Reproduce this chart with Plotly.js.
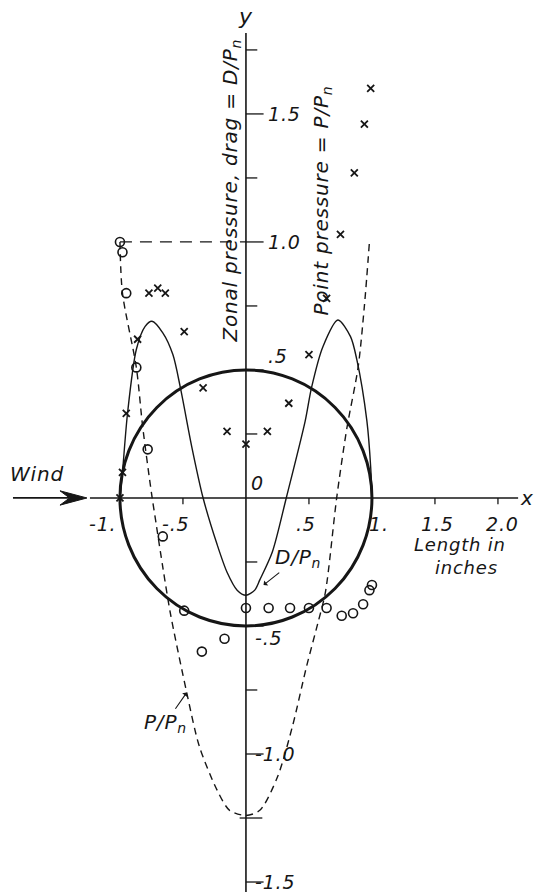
<!DOCTYPE html>
<html>
<head>
<meta charset="utf-8">
<script src="https://cdn.plot.ly/plotly-3.0.1.min.js"></script>
<style>
  html, body { margin: 0; padding: 0; background: #fff; }
  #chart { width: 536px; height: 892px; }
  .annotation-text { letter-spacing: 0.8px; }
</style>
</head>
<body>
<div id="chart"></div>
<script>
// zonal pressure / drag curve D/Pn (solid)
const dragX = [-1.0, -0.98, -0.94, -0.87, -0.80, -0.746, -0.66, -0.58, -0.52, -0.43, -0.34, -0.23, -0.15, -0.07, 0.0, 0.07, 0.11, 0.21, 0.32, 0.47, 0.52, 0.61, 0.73, 0.83, 0.88, 0.96, 0.99, 1.0];
const dragY = [0.0, 0.10, 0.33, 0.58, 0.67, 0.69, 0.645, 0.56, 0.43, 0.20, 0.0, -0.18, -0.29, -0.36, -0.38, -0.36, -0.32, -0.21, 0.0, 0.30, 0.43, 0.59, 0.695, 0.63, 0.54, 0.30, 0.12, 0.0];

// point pressure curve P/Pn (dashed)
const pointX = [-1.0, -0.98, -0.87, -0.82, -0.75, -0.71, -0.66, -0.60, -0.47, -0.37, -0.23, -0.13, 0.0, 0.11, 0.25, 0.37, 0.48, 0.57, 0.63, 0.72, 0.80, 0.89, 0.94, 0.98];
const pointY = [1.0, 0.80, 0.51, 0.28, 0.02, -0.11, -0.27, -0.45, -0.76, -0.97, -1.14, -1.22, -1.24, -1.22, -1.09, -0.89, -0.66, -0.49, -0.37, 0.0, 0.27, 0.51, 0.75, 1.0];

// measured points, open circles
const circX = [-1.0, -0.98, -0.95, -0.87, -0.78, -0.66, -0.49, -0.35, -0.17, 0.0, 0.18, 0.35, 0.50, 0.64, 0.76, 0.85, 0.93, 0.98, 1.0];
const circY = [1.0, 0.96, 0.80, 0.51, 0.19, -0.15, -0.44, -0.60, -0.55, -0.43, -0.43, -0.43, -0.43, -0.43, -0.46, -0.45, -0.415, -0.36, -0.34];

// measured points, crosses
const crossX = [-1.0, -0.98, -0.95, -0.86, -0.77, -0.70, -0.64, -0.49, -0.34, -0.15, 0.0, 0.17, 0.34, 0.50, 0.64, 0.75, 0.86, 0.94, 0.99];
const crossY = [0.0, 0.10, 0.33, 0.62, 0.80, 0.82, 0.80, 0.65, 0.43, 0.26, 0.21, 0.26, 0.37, 0.56, 0.78, 1.03, 1.27, 1.46, 1.60];

// axis ticks
const xTickVals = [-1, -0.5, 0.5, 1, 1.5, 2];
const xTickText = ['-1.', '-.5', '.5', '1.', '1.5', '2.0'];
const yTickVals = [1.5, 1.0, 0.5, -0.5, -1.0, -1.5];
const yTickText = ['1.5', '1.0', '.5', '-.5', '-1.0', '-1.5'];
const yMinorVals = [1.75, 1.25, 0.75, 0.25, -0.25, -0.75, -1.25];

const ink = '#161616';
const font = { family: 'DejaVu Sans, sans-serif', size: 20, color: ink };
const tickFont = { ...font, size: 19 };
const it = (s) => `<i>${s}</i>`;

const traces = [
  { x: dragX, y: dragY, mode: 'lines', line: { color: ink, width: 1.4, shape: 'spline', smoothing: 0.8 }, hoverinfo: 'skip' },
  { x: pointX, y: pointY, mode: 'lines', line: { color: ink, width: 1.4, dash: '7px,5px', shape: 'spline', smoothing: 0.8 }, hoverinfo: 'skip' },
  { x: circX, y: circY, mode: 'markers', marker: { symbol: 'circle-open', size: 9, color: ink, line: { width: 1.6, color: ink } } },
  { x: crossX, y: crossY, mode: 'markers', marker: { symbol: 'x-thin-open', size: 7, color: ink, line: { width: 1.8, color: ink } } }
];

const line = (x0, x1, y0, y1, width, dash) => ({ type: 'line', xref: 'x', yref: 'y', x0, x1, y0, y1, line: { color: ink, width, dash: dash || 'solid' } });

const shapes = [
  // cylinder section
  { type: 'circle', xref: 'x', yref: 'y', x0: -1, x1: 1, y0: -0.5, y1: 0.5, line: { color: ink, width: 3 } },
  // axes
  line(-1.238, 2.16, 0, 0, 1.6),
  line(0, 0, -1.54, 1.816, 1.6),
  // wind arrow
  line(-1.849, -1.40, 0, 0, 1.8),
  { type: 'path', xref: 'x', yref: 'y', path: 'M -1.262 0 L -1.476 0.028 L -1.40 0 L -1.476 -0.028 Z', fillcolor: ink, line: { color: ink, width: 1 } },
  // dashed reference at 1.0
  line(-1, 0, 1, 1, 1.3, '12px,8px')
];
xTickVals.forEach((v) => shapes.push(line(v, v, 0, -0.025, 1.3)));
yTickVals.forEach((v) => shapes.push(line(0, 0.14, v, v, 1.3)));
yMinorVals.forEach((v) => shapes.push(v === -1.25 ? line(-0.05, 0.13, v, v, 1.3) : line(0, 0.09, v, v, 1.3)));

const xShift = { '-1.': -17, '-.5': -7, '.5': -3, '1.': 7, '1.5': 3, '2.0': 5 };
const annotations = [];
xTickVals.forEach((v, i) => annotations.push({
  x: v, y: 0, xref: 'x', yref: 'y', text: it(xTickText[i]), showarrow: false,
  xanchor: 'center', yanchor: 'middle', yshift: -26, xshift: xShift[xTickText[i]], font: tickFont
}));
yTickVals.forEach((v, i) => annotations.push({
  x: 0, y: v, xref: 'x', yref: 'y', text: it(yTickText[i]), showarrow: false,
  xanchor: 'left', yanchor: 'middle', xshift: v > 0 ? 20 : 7, yshift: v === 0.5 ? 14 : (v === -0.5 ? -12 : 0), font: tickFont
}));

annotations.push(
  { x: 0, y: 0, xref: 'x', yref: 'y', text: it('0'), showarrow: false, xanchor: 'left', yanchor: 'bottom', xshift: 3, yshift: 2, font: tickFont },
  { x: 0, y: 1.816, xref: 'x', yref: 'y', text: it('y'), showarrow: false, xanchor: 'center', yanchor: 'bottom', yshift: 2, font: { ...font, size: 22 } },
  { x: 2.16, y: 0, xref: 'x', yref: 'y', text: it('x'), showarrow: false, xanchor: 'left', yanchor: 'middle', xshift: 0, font: { ...font, size: 20 } },
  { x: -1.66, y: 0.094, xref: 'x', yref: 'y', text: it('Wind'), showarrow: false, font },
  { x: -0.12, y: 1.20, xref: 'x', yref: 'y', text: it('Zonal pressure, drag = D/P<sub>n</sub>'), showarrow: false, textangle: -90, font },
  { x: 0.60, y: 1.16, xref: 'x', yref: 'y', text: it('Point pressure = P/P<sub>n</sub>'), showarrow: false, textangle: -90, font },
  { x: 1.70, y: -0.225, xref: 'x', yref: 'y', text: it('Length in<br>  inches'), showarrow: false, align: 'center', font: { ...font, size: 18 } },
  // curve labels, arrow from label to curve
  { x: 0.14, y: -0.34, xref: 'x', yref: 'y', ax: 0.41, ay: -0.235, axref: 'x', ayref: 'y', text: it('D/P<sub>n</sub>'), showarrow: true,
    arrowhead: 1, arrowsize: 1, arrowwidth: 1.1, arrowcolor: ink, font },
  { x: -0.47, y: -0.76, xref: 'x', yref: 'y', ax: -0.64, ay: -0.88, axref: 'x', ayref: 'y', text: it('P/P<sub>n</sub>'), showarrow: true,
    arrowhead: 1, arrowsize: 1, arrowwidth: 1.1, arrowcolor: ink, font }
);

const layout = {
  width: 536,
  height: 892,
  margin: { l: 0, r: 0, t: 0, b: 0 },
  paper_bgcolor: '#fff',
  plot_bgcolor: '#fff',
  showlegend: false,
  xaxis: { range: [-1.952, 2.302], visible: false, fixedrange: true },
  yaxis: { range: [-1.539, 1.945], visible: false, fixedrange: true },
  shapes,
  annotations
};

Plotly.newPlot('chart', traces, layout, { displayModeBar: false, staticPlot: true });
</script>
</body>
</html>
